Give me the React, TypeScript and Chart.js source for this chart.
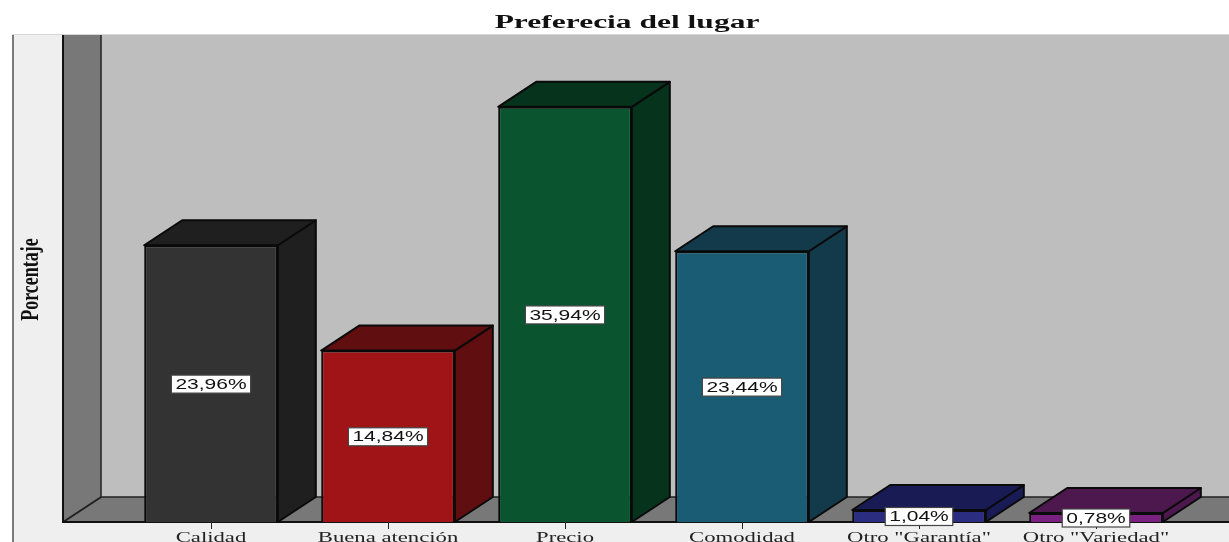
import React, { useEffect, useRef } from "react";
import { Chart, registerables } from "chart.js";

Chart.register(...registerables);

const chartTitle = "Preferecia del lugar";
const yAxisTitle = "Porcentaje";
const categories = ["Calidad", "Buena atención", "Precio", "Comodidad", 'Otro "Garantía"', 'Otro "Variedad"'];
const percentages = [23.96, 14.84, 35.94, 23.44, 1.04, 0.78];
const valueLabels = ["23,96%", "14,84%", "35,94%", "23,44%", "1,04%", "0,78%"];
const frontColors = ["#333333", "#a01418", "#0a5530", "#1a5c74", "#2a2d80", "#7a2080"];
const sideColors = ["#1f1f1f", "#600e10", "#06331c", "#123a4a", "#191b55", "#4c184e"];

const DEPTH_X = 38;
const DEPTH_Y = 25;
const WALL_X = 63;
const W = 1229;
const H = 542;
const TITLE_CENTER = 627;
const TITLE_STRETCH = 1.75;
const TICK_STRETCH = 1.62;
const YTITLE_CENTER = 32;
const YTITLE_STRETCH = 1.35;

function poly(ctx: CanvasRenderingContext2D, pts: number[][], fill: string, stroke = "#0a0a0a", lw = 2) {
  ctx.beginPath();
  pts.forEach((p, i) => (i ? ctx.lineTo(p[0], p[1]) : ctx.moveTo(p[0], p[1])));
  ctx.closePath();
  ctx.fillStyle = fill;
  ctx.fill();
  ctx.lineWidth = lw;
  ctx.strokeStyle = stroke;
  ctx.lineJoin = "round";
  ctx.stroke();
}

const scene = {
  id: "scene",
  afterLayout(chart: any) {
    // The source picture has horizontally stretched text: wrap the library's own text drawing in a transform.
    const tb = chart.titleBlock;
    tb.left = 25;
    tb.right = W;
    if (!tb.__wrapped) {
      tb.__wrapped = true;
      const drawTitle = tb.draw.bind(tb);
      tb.draw = () => {
        const c = chart.ctx;
        c.save();
        c.translate(TITLE_CENTER, 0);
        c.scale(TITLE_STRETCH, 1);
        c.translate(-TITLE_CENTER, 0);
        drawTitle();
        c.restore();
      };
    }
    const sx = chart.scales.x;
    if (!sx.__wrapped) {
      sx.__wrapped = true;
      const getItems = sx.getLabelItems.bind(sx);
      const drawLabels = sx.drawLabels.bind(sx);
      sx.getLabelItems = (area: any) =>
        getItems(area).map((it: any) => ({
          ...it,
          options: {
            ...it.options,
            translation: [it.options.translation[0] / TICK_STRETCH, it.options.translation[1]],
          },
        }));
      sx.drawLabels = (area: any) => {
        const c = chart.ctx;
        c.save();
        c.scale(TICK_STRETCH, 1);
        drawLabels(area);
        c.restore();
      };
    }
    const sy = chart.scales.y;
    if (!sy.__wrapped) {
      sy.__wrapped = true;
      const drawT = sy.drawTitle.bind(sy);
      sy.drawTitle = () => {
        const c = chart.ctx;
        c.save();
        c.translate(YTITLE_CENTER, 1);
        c.scale(YTITLE_STRETCH, 1);
        c.translate(-YTITLE_CENTER, 0);
        drawT();
        c.restore();
      };
    }
  },
  beforeDraw(chart: any) {
    const { ctx, chartArea } = chart;
    const top = chartArea.top;
    const base = chartArea.bottom;
    const backX = WALL_X + DEPTH_X;
    const backY = base - DEPTH_Y;
    ctx.save();
    ctx.fillStyle = "#ffffff";
    ctx.fillRect(0, 0, W, H);
    ctx.fillStyle = "#efefef";
    ctx.fillRect(12, top, W - 12, H - top);
    ctx.fillStyle = "#7a7a7a";
    ctx.fillRect(12, top, 2, H - top);
    ctx.fillStyle = "#d8d8d8";
    ctx.fillRect(12, top - 1, W - 12, 1);
    ctx.fillStyle = "#bebebe";
    ctx.fillRect(backX, top, W - backX, backY - top);
    poly(ctx, [[WALL_X, base], [backX, backY], [W + 4, backY], [W + 4, base]], "#787878", "#222222", 1.5);
    ctx.beginPath();
    ctx.rect(0, top, W, H - top);
    ctx.clip();
    poly(ctx, [[WALL_X, top - 4], [backX, top - 4], [backX, backY], [WALL_X, base]], "#787878", "#222222", 1.5);
    ctx.fillStyle = "#111111";
    ctx.fillRect(WALL_X - 1, top, 2, base - top + 1);
    ctx.fillRect(WALL_X - 1, base - 1, W - WALL_X + 1, 2);
    ctx.restore();
  },
  beforeDatasetsDraw(chart: any) {
    const { ctx } = chart;
    const meta = chart.getDatasetMeta(0);
    ctx.save();
    meta.data.forEach((bar: any, i: number) => {
      const { x, y, base, width } = bar.getProps(["x", "y", "base", "width"], true);
      const r = x + width / 2;
      const l = x - width / 2;
      poly(ctx, [[r, y], [r + DEPTH_X, y - DEPTH_Y], [r + DEPTH_X, base - DEPTH_Y], [r, base]], sideColors[i]);
      poly(ctx, [[l, y], [l + DEPTH_X, y - DEPTH_Y], [r + DEPTH_X, y - DEPTH_Y], [r, y]], sideColors[i]);
    });
    ctx.restore();
  },
  afterDatasetsDraw(chart: any) {
    const { ctx } = chart;
    const meta = chart.getDatasetMeta(0);
    ctx.save();
    meta.data.forEach((bar: any, i: number) => {
      const { x, y, base } = bar.getProps(["x", "y", "base"], true);
      const cy = (y + base) / 2 + 0.5;
      ctx.font = "15px 'Liberation Sans'";
      const stretch = 1.4;
      const tw = ctx.measureText(valueLabels[i]).width * stretch;
      const bw = tw + 8;
      const bh = 18;
      ctx.fillStyle = "#ffffff";
      ctx.fillRect(x - bw / 2, cy - bh / 2, bw, bh);
      ctx.lineWidth = 1.2;
      ctx.strokeStyle = "#444444";
      ctx.strokeRect(x - bw / 2, cy - bh / 2, bw, bh);
      ctx.save();
      ctx.translate(x, cy + 0.5);
      ctx.scale(stretch, 1);
      ctx.fillStyle = "#111111";
      ctx.textAlign = "center";
      ctx.textBaseline = "middle";
      ctx.fillText(valueLabels[i], 0, 0);
      ctx.restore();
    });
    ctx.restore();
  },
};

export default function App() {
  const ref = useRef<HTMLCanvasElement>(null);
  useEffect(() => {
    const chart = new Chart(ref.current!, {
      type: "bar",
      data: {
        labels: categories,
        datasets: [
          {
            label: yAxisTitle,
            data: percentages,
            backgroundColor: frontColors,
            borderColor: "#0a0a0a",
            borderWidth: 2,
            barPercentage: 0.755,
            categoryPercentage: 1,
          },
        ],
      },
      options: {
        responsive: false,
        animation: false,
        layout: { padding: { left: 0, right: 44.5, top: 0, bottom: 0 } },
        plugins: {
          legend: { display: false },
          tooltip: { enabled: false },
          title: {
            display: true,
            text: chartTitle,
            color: "#111111",
            font: { family: "'Liberation Serif'", size: 18, weight: "bold", lineHeight: 1.2 },
            padding: { top: 12.5, bottom: 0.9 },
          },
        },
        scales: {
          x: {
            grid: { display: true, drawOnChartArea: false, drawTicks: true, tickLength: 7, tickColor: "#222222", offset: false },
            border: { display: false },
            ticks: { color: "#222222", padding: 1, maxRotation: 0, autoSkip: false, font: { family: "'Liberation Serif'", size: 14 } },
            afterFit: (s: any) => { s.height = 20; },
          },
          y: {
            min: 0,
            max: 42.16,
            grid: { display: false },
            border: { display: false },
            ticks: { display: false },
            title: {
              display: true,
              text: yAxisTitle,
              color: "#111111",
              font: { family: "'Liberation Serif'", size: 18, weight: "bold", lineHeight: 1 },
              padding: { top: 23, bottom: 0 },
            },
            afterFit: (s: any) => { s.width = 122.5; },
          },
        },
      } as any,
      plugins: [scene],
    });
    return () => chart.destroy();
  }, []);
  return (
    <div style={{ position: "absolute", left: 0, top: 0, width: W, height: H }}>
      <canvas ref={ref} width={W} height={H} style={{ display: "block", filter: "blur(0.4px)" }} />
    </div>
  );
}
